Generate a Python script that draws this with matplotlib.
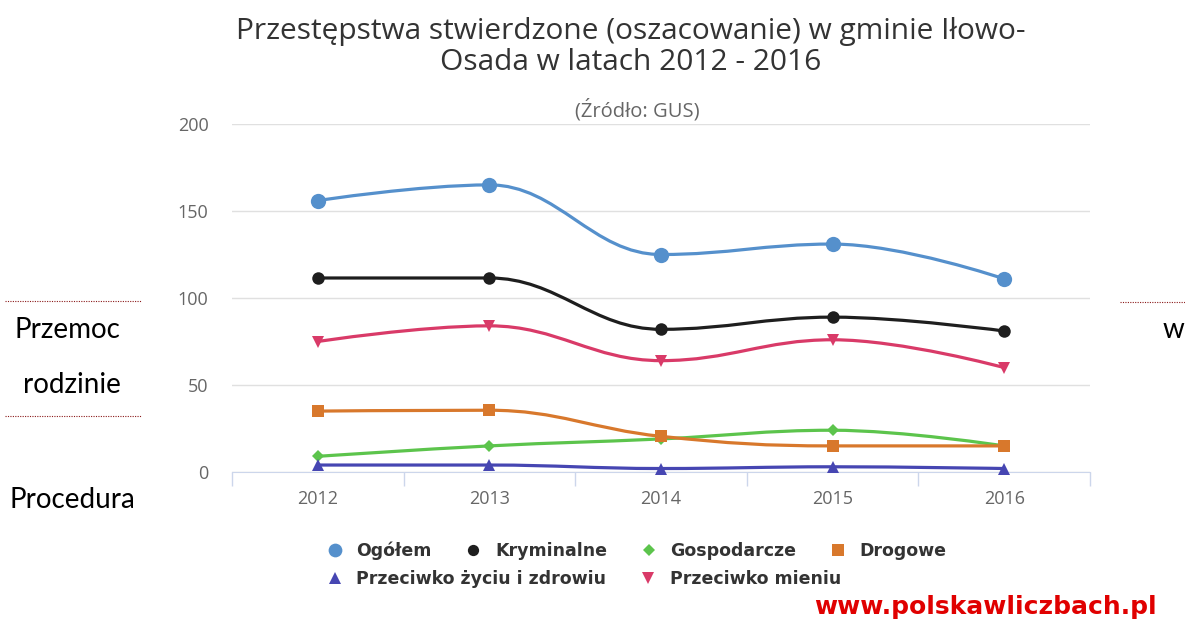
import matplotlib.pyplot as plt
import numpy as np
from matplotlib.path import Path
from matplotlib.patches import PathPatch
from matplotlib.lines import Line2D

years = ['2012', '2013', '2014', '2015', '2016']
ogolem = [156, 165, 125, 131, 111]
kryminalne = [111.5, 111.5, 82, 89, 81]
gospodarcze = [9, 15, 19, 24, 15]
drogowe = [35, 35.5, 20.5, 15, 15]
zycie = [4, 4, 2, 3, 2]
mienie = [75, 84, 64, 76, 60]

series = [
    ('Ogółem', ogolem, '#5590cc', 'o', 11),
    ('Kryminalne', kryminalne, '#1e1e1e', 'o', 9),
    ('Gospodarcze', gospodarcze, '#5cc44c', 'D', 6.5),
    ('Drogowe', drogowe, '#d8782c', 's', 9),
    ('Przeciwko życiu i zdrowiu', zycie, '#4646b2', '^', 9),
    ('Przeciwko mieniu', mienie, '#d93a68', 'v', 9),
]

W, H = 1185, 623
plt.rcParams['font.family'] = ['Open Sans', 'DejaVu Sans']


def spline(xs, ys, k=1.5):
    # spline like highcharts: control points from neighbours
    n = len(xs)
    lc = [(xs[i], ys[i]) for i in range(n)]
    rc = [(xs[i], ys[i]) for i in range(n)]
    for i in range(1, n - 1):
        x, y = xs[i], ys[i]
        lx, ly = xs[i - 1], ys[i - 1]
        nx, ny = xs[i + 1], ys[i + 1]
        d = k + 1
        lcx, lcy = (k * x + lx) / d, (k * y + ly) / d
        rcx, rcy = (k * x + nx) / d, (k * y + ny) / d
        corr = (rcy - lcy) * (rcx - x) / (rcx - lcx) + y - rcy
        lcy += corr
        rcy += corr
        if lcy > ly and lcy > y:
            lcy = max(ly, y); rcy = 2 * y - lcy
        elif lcy < ly and lcy < y:
            lcy = min(ly, y); rcy = 2 * y - lcy
        if rcy > ny and rcy > y:
            rcy = max(ny, y); lcy = 2 * y - rcy
        elif rcy < ny and rcy < y:
            rcy = min(ny, y); lcy = 2 * y - rcy
        lc[i] = (lcx, lcy)
        rc[i] = (rcx, rcy)
    verts = [(xs[0], ys[0])]
    codes = [Path.MOVETO]
    for i in range(1, n):
        verts += [rc[i - 1], lc[i], (xs[i], ys[i])]
        codes += [Path.CURVE4] * 3
    return Path(verts, codes)


fig = plt.figure(figsize=(W / 100, H / 100), dpi=100)
ax = fig.add_axes([232 / W, (H - 472) / H, (1090 - 232) / W, (472 - 124) / H])

x = np.arange(len(years))
for i, (name, vals, col, m, ms) in enumerate(series):
    ax.add_patch(PathPatch(spline(x, vals), fill=False, edgecolor=col, lw=2.3,
                           zorder=3 + i, capstyle='round'))
    ax.plot(x, vals, linestyle='none', marker=m, color=col, ms=ms,
            markeredgewidth=0, zorder=3 + i, clip_on=False)

ax.set_xlim(-0.5, 4.5)
ax.set_ylim(0, 200)
ax.set_yticks([0, 50, 100, 150, 200])
ax.set_xticks(x)
ax.set_xticklabels(years)
ax.set_xticks(np.arange(-0.5, 5, 1), minor=True)
ax.tick_params(axis='x', which='major', length=0, pad=13, labelsize=13, labelcolor='#666666')
ax.tick_params(axis='x', which='minor', length=10, color='#ccd6eb', width=1)
ax.tick_params(axis='y', length=0, pad=17, labelsize=13, labelcolor='#666666')
ax.grid(axis='y', color='#e0e0e0', lw=1)
for s in ['top', 'right', 'left']:
    ax.spines[s].set_visible(False)
ax.spines['bottom'].set_color('#ccd6eb')
ax.set_axisbelow(True)

fig.text(631 / W, 1 - 32 / H, 'Przestępstwa stwierdzone (oszacowanie) w gminie Iłowo-',
         ha='center', va='center', fontsize=21.5, color='#333333')
fig.text(631 / W, 1 - 62 / H, 'Osada w latach 2012 - 2016',
         ha='center', va='center', fontsize=21.5, color='#333333')
fig.text(637 / W, 1 - 110 / H, '(Źródło: GUS)', ha='center', va='center',
         fontsize=14.5, color='#666666')

# legenda w dwóch rzędach
handles = [Line2D([], [], linestyle='none', marker=m, color=col, ms=ms * 0.9,
                  markeredgewidth=0) for name, vals, col, m, ms in series]
names = [s[0] for s in series]
leg_kw = dict(frameon=False, handlelength=1.0, handletextpad=0.75, columnspacing=1.9,
              borderpad=0, borderaxespad=0,
              prop={'weight': 'bold', 'size': 12.5, 'family': 'DejaVu Sans'},
              labelcolor='#333333')
fig.legend(handles[:4], names[:4], ncol=4, loc='center left',
           bbox_to_anchor=(326 / W, 1 - 551 / H), **leg_kw)
fig.legend(handles[4:], names[4:], ncol=2, loc='center left',
           bbox_to_anchor=(326 / W, 1 - 579 / H), **leg_kw)

fig.text(1157 / W, 1 - 607 / H, 'www.polskawliczbach.pl', ha='right', va='center',
         fontsize=18, fontweight='bold', color='#e00000', family='DejaVu Sans')

# tekst dokumentu wokół wykresu
side = dict(fontsize=20, color='black', family=['Lato', 'DejaVu Sans'])
fig.text(67 / W, 1 - 330 / H, 'Przemoc', ha='center', va='center', **side)
fig.text(72 / W, 1 - 385 / H, 'rodzinie', ha='center', va='center', **side)
fig.text(72 / W, 1 - 500 / H, 'Procedura', ha='center', va='center', **side)
fig.text(1173 / W, 1 - 330 / H, 'w', ha='center', va='center', **side)
for (x0, x1, yy) in [(5, 141, 301), (5, 141, 416), (1120, 1185, 302)]:
    fig.add_artist(Line2D([x0 / W, x1 / W], [1 - yy / H, 1 - yy / H], color='#8b1a1a',
                          lw=0.8, linestyle=(0, (1, 1.2))))

fig.savefig('out.png', dpi=100)
